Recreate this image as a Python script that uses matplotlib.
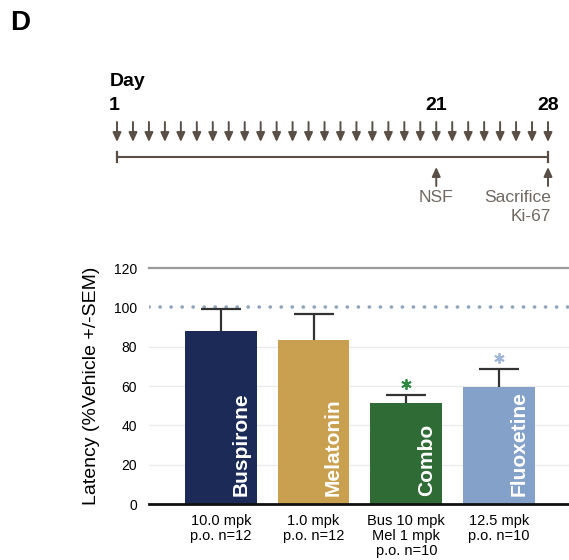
import matplotlib
matplotlib.use("Agg")
import matplotlib.pyplot as plt

plt.rcParams['font.family'] = ['Liberation Sans', 'DejaVu Sans']

# ---- data ----
drugs = ["Buspirone", "Melatonin", "Combo", "Fluoxetine"]
latency = [88.1, 83.4, 51.5, 59.7]
sem = [11.1, 13.1, 3.8, 8.9]
dose_labels = ["10.0 mpk\np.o. n=12", "1.0 mpk\np.o. n=12",
               "Bus 10 mpk\nMel 1 mpk\np.o. n=10", "12.5 mpk\np.o. n=10"]
bar_colors = ["#1b2a56", "#c9a04f", "#2e6b35", "#84a1c9"]
significant = [False, False, True, True]
star_colors = ["#2e8a40", "#9fb6d8"]
vehicle_level = 100
yticks = [0, 20, 40, 60, 80, 100, 120]

days = list(range(1, 29))
day_labels = [1, 21, 28]
events = [(21, "NSF"), (28, "Sacrifice\nKi-67")]

W, H = 569, 560
fig = plt.figure(figsize=(W / 100, H / 100), dpi=100)

# ---- overlay axes for timeline (pixel coords) ----
x0_px, x1_px = 117, 548
px_per_day = (x1_px - x0_px) / 27.0
def d2px(d):
    return x0_px + (d - 1) * px_per_day

ov = fig.add_axes([0, 0, 1, 1])
ov.set_xlim(0, W)
ov.set_ylim(H, 0)
ov.axis("off")

brown = "#5a4f46"
grey_txt = "#6f6863"
ov.text(10, 23, "D", fontsize=20, fontweight="bold", ha="left", va="center")
ov.text(110, 81, "Day", fontsize=14, fontweight="bold", ha="left", va="center")
for d in day_labels:
    ov.text(d2px(d) - (3 if d == 1 else 0), 105, str(d), fontsize=14,
            fontweight="bold", ha="center", va="center")

arrow_style = "-|>,head_length=0.55,head_width=0.25"
for d in days:
    x = d2px(d)
    ov.annotate("", xy=(x, 142), xytext=(x, 122),
                arrowprops=dict(arrowstyle=arrow_style, color=brown, lw=1.4,
                                shrinkA=0, shrinkB=0))

ov.plot([d2px(1), d2px(28)], [157, 157], color=brown, lw=1.5, solid_capstyle="butt")
for d in (1, 28):
    ov.plot([d2px(d), d2px(d)], [152, 162], color=brown, lw=1.6)

for d, lab in events:
    x = d2px(d)
    ov.annotate("", xy=(x, 167), xytext=(x, 186),
                arrowprops=dict(arrowstyle=arrow_style, color=brown, lw=1.4,
                                shrinkA=0, shrinkB=0))
    if d == 28:
        ov.text(x + 3, 190, lab, fontsize=12.5, color=grey_txt, ha="right", va="top",
                linespacing=1.3, multialignment="right")
    else:
        ov.text(x, 190, lab, fontsize=12.5, color=grey_txt, ha="center", va="top")

# ---- bar chart ----
left_px, right_px = 149, 569
y0_px, y120_px = 504, 268
ax = fig.add_axes([left_px / W, (H - y0_px) / H, (right_px - left_px) / W,
                   (y0_px - y120_px) / H])
xs = list(range(len(drugs)))
width = 0.774
ax.set_xlim(-0.774, 3.753)
ax.set_ylim(0, 120)

for y in [20, 40, 60, 80]:
    ax.axhline(y, color="#ebebeb", lw=1.0, zorder=0)
ax.axhline(120, color="#9a9a9a", lw=1.6, zorder=0, clip_on=False)
ax.axhline(vehicle_level, color="#90a6bd", lw=2.6, ls=(0, (0.05, 3.0)),
           dash_capstyle="round", zorder=1)

ax.bar(xs, latency, width=width, color=bar_colors, zorder=2)
tops = [v + e for v, e in zip(latency, sem)]
cap_half = 0.215
ax.vlines(xs, latency, tops, color="#333333", lw=1.6, zorder=3)
ax.hlines(tops, [x - cap_half for x in xs], [x + cap_half for x in xs],
          color="#333333", lw=1.6, zorder=3)
ax.axhline(0, color="#111111", lw=2, zorder=4, clip_on=False)

for i, name in enumerate(drugs):
    ax.text(xs[i] + 0.215, 4.0, name, rotation=90, color="white", fontsize=15,
            fontweight="bold", ha="center", va="bottom", zorder=5)

si = 0
for i, s in enumerate(significant):
    if s:
        ax.plot([xs[i]], [tops[i] + 5.7], marker=(6, 2, 0), ms=7.5, mew=1.3,
                color=star_colors[si], zorder=5)
        si += 1

ax.set_yticks(yticks)
ax.set_yticklabels([str(t) for t in yticks], fontsize=10)
ax.set_xticks(xs)
ax.set_xticklabels(dose_labels, fontsize=10.5, linespacing=1.1, va="top")
ax.tick_params(axis="y", length=0, pad=8.5)
ax.tick_params(axis="x", length=0, pad=7)
for s in ax.spines.values():
    s.set_visible(False)
ax.set_ylabel("Latency (%Vehicle +/-SEM)", fontsize=14, labelpad=10)

fig.savefig("out.png", dpi=100)
